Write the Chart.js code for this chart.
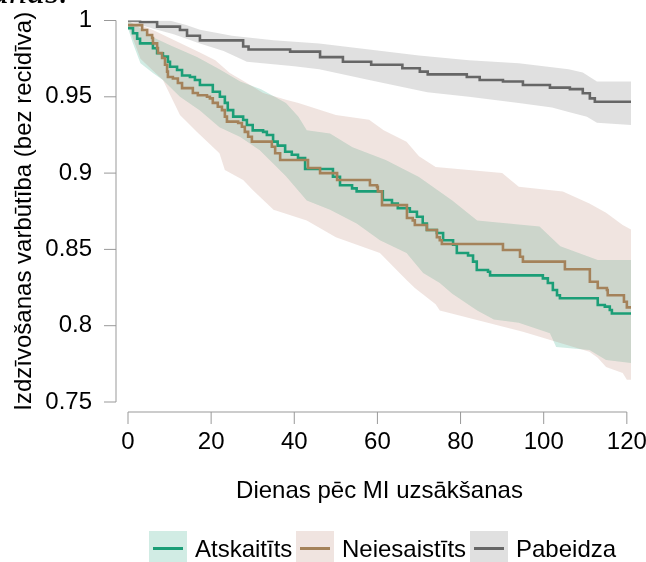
<!DOCTYPE html>
<html>
<head>
<meta charset="utf-8">
<script src="https://cdn.jsdelivr.net/npm/chart.js@4.4.1/dist/chart.umd.min.js"></script>
<style>
  body { margin: 0; background: #fff; }
  #wrap { position: relative; width: 646px; height: 562px; overflow: hidden; font-family: "Liberation Sans", Arial, sans-serif; }
  #caption { position: absolute; right: 578px; top: -27px; font: italic 36px/36px "Liberation Serif", "Times New Roman", serif; white-space: nowrap; color: #000; }
  .key { position: absolute; top: 531px; width: 38px; height: 36px; }
  .key i { position: absolute; left: 4px; right: 4px; top: 16px; height: 3px; }
  .key-text { position: absolute; top: 535px; font-size: 24px; line-height: 28px; color: #000; white-space: nowrap; }
</style>
</head>
<body>
<div id="wrap">
  <div id="caption">uzsākšanas.</div>
  <canvas id="km" width="646" height="562"></canvas>
  <div id="legend"></div>
</div>
<script>
// --- Data: Kaplan-Meier estimates and 95% bands, days since start ---
const groupNames = ["Atskaitīts", "Neiesaistīts", "Pabeidza"];

const greenDays = [0, 1.2, 2.2, 2.9, 6, 7, 8.4, 9.6, 10.1, 11.8, 13, 14.9, 16.1, 17.3, 20.4, 22.1, 23.3, 24, 25.3, 27.7,
  28.6, 30, 32.5, 33.4, 34.9, 36, 37.8, 39.4, 40.9, 42.6, 49.3, 51, 53.9, 55, 61.3, 63.5, 64.9, 67.8, 69.5, 70.9,
  71.9, 74.3, 75.8, 78.2, 79.1, 81.8, 83, 83.9, 86.6, 87.1, 99.8, 101, 102.2, 103.2, 103.9, 113, 114.7, 115.9, 116.4, 121];
const greenSurv = [0.995, 0.9916, 0.988, 0.985, 0.9818, 0.9785, 0.9763, 0.973, 0.9697, 0.9676, 0.964, 0.963, 0.961, 0.9577, 0.9533, 0.950, 0.946, 0.9413, 0.937, 0.9348,
  0.9315, 0.928, 0.927, 0.925, 0.9206, 0.918, 0.914, 0.912, 0.9098, 0.9027, 0.8976, 0.892, 0.890, 0.888, 0.8824, 0.880, 0.877, 0.8747, 0.8714, 0.867,
  0.8627, 0.8607, 0.856, 0.853, 0.8476, 0.846, 0.842, 0.8365, 0.8354, 0.833, 0.831, 0.828, 0.8234, 0.820, 0.818, 0.8136, 0.8125, 0.8103, 0.808, 0.808];

const brownDays = [0, 3.4, 4.6, 5.8, 6, 7, 7.2, 8.2, 8.9, 9.4, 9.6, 10.8, 12, 13, 15.6, 16.8, 19, 19.7, 20.4, 21.6,
  22.6, 23.3, 23.8, 26.5, 27.4, 28.1, 28.9, 29.8, 34.6, 35.4, 36.6, 43.3, 46.2, 50.3, 58.2, 59.9, 60.1, 61.1, 67.1, 68.5,
  69, 71.9, 74.3, 75, 75.5, 90.2, 94.3, 95, 105.1, 111.1, 113, 115.2, 115.4, 119.3, 120, 121];
const brownSurv = [0.997, 0.9938, 0.9905, 0.9885, 0.985, 0.982, 0.9787, 0.9754, 0.971, 0.9665, 0.963, 0.962, 0.959, 0.9557, 0.9525, 0.951, 0.950, 0.949, 0.946, 0.9435,
  0.9413, 0.937, 0.9337, 0.9328, 0.9304, 0.927, 0.9238, 0.9206, 0.9173, 0.913, 0.9086, 0.9033, 0.900, 0.8955, 0.892, 0.891, 0.888, 0.879, 0.8706, 0.869,
  0.866, 0.8627, 0.858, 0.856, 0.8535, 0.8496, 0.8452, 0.842, 0.837, 0.8288, 0.8247, 0.8234, 0.820, 0.8157, 0.812, 0.812];

const grayDays = [0, 2.9, 7, 12.5, 14.2, 17.3, 27.7, 29, 39, 46.2, 51.7, 58.5, 66, 70.2, 72.1, 81.5, 84.6, 90.2, 95, 101.5, 106.3, 109.4, 111.1, 112.3, 121];
const graySurv = [1, 0.999, 0.996, 0.9938, 0.990, 0.987, 0.983, 0.981, 0.9796, 0.976, 0.973, 0.971, 0.9687, 0.9665, 0.9647, 0.963, 0.961, 0.960, 0.9577, 0.956, 0.955, 0.9523, 0.949, 0.9468, 0.946];

const greenUpperDays = [0, 3, 6, 10, 16.6, 22, 27, 32, 38, 41, 43, 48.6, 54, 62, 70, 78, 84, 99, 104, 113, 121];
const greenUpper = [1, 0.995, 0.989, 0.984, 0.976, 0.968, 0.960, 0.955, 0.946, 0.937, 0.928, 0.926, 0.917, 0.9086, 0.8974, 0.882, 0.869, 0.865, 0.852, 0.843, 0.843];
const greenLowerDays = [0, 1.2, 3, 6, 8.4, 12.5, 17.3, 22, 27, 31.7, 38, 43, 48.6, 55, 60.6, 67, 71, 75, 78, 84, 88, 94, 101.5, 103, 111, 115, 121];
const greenLower = [0.995, 0.985, 0.972, 0.9656, 0.961, 0.950, 0.941, 0.930, 0.9237, 0.915, 0.898, 0.882, 0.876, 0.867, 0.856, 0.8476, 0.8345, 0.828, 0.821, 0.810, 0.804, 0.802, 0.795, 0.786, 0.784, 0.7775, 0.7755];

const brownUpperDays = [0, 6, 17.3, 21, 24.5, 28.6, 32.5, 38, 41, 50, 58, 61.5, 67, 70, 74, 90, 94, 104.6, 111, 115, 119, 121];
const brownUpper = [1, 0.9938, 0.979, 0.974, 0.9656, 0.959, 0.9525, 0.948, 0.946, 0.938, 0.935, 0.928, 0.9206, 0.911, 0.904, 0.900, 0.891, 0.888, 0.880, 0.874, 0.866, 0.863];
const brownLowerDays = [0, 3, 8.4, 12.5, 16.6, 22, 23.3, 27.7, 30, 35, 43, 50, 60.6, 67, 69, 74, 75, 95, 111, 113, 115, 119, 120, 121];
const brownLower = [0.997, 0.975, 0.961, 0.938, 0.927, 0.913, 0.902, 0.8955, 0.889, 0.876, 0.869, 0.858, 0.8476, 0.830, 0.8247, 0.814, 0.810, 0.796, 0.783, 0.779, 0.773, 0.769, 0.7645, 0.7645];

const grayUpperDays = [0, 10, 14, 17.3, 25, 35, 46, 58, 70, 82, 94, 106, 109.4, 112.8, 121];
const grayUpper = [1, 1, 0.997, 0.994, 0.990, 0.987, 0.985, 0.981, 0.977, 0.974, 0.972, 0.968, 0.966, 0.960, 0.960];
const grayLowerDays = [0, 3, 7, 11, 17.3, 23, 28.6, 40, 46, 58, 72, 82, 94, 102, 106, 110.4, 112.8, 121];
const grayLower = [1, 0.997, 0.994, 0.991, 0.985, 0.980, 0.973, 0.970, 0.968, 0.961, 0.953, 0.950, 0.946, 0.943, 0.940, 0.937, 0.933, 0.9315];

const xTicks = [0, 20, 40, 60, 80, 100, 120];
const xTickLabels = ["0", "20", "40", "60", "80", "100", "120"];
const yTicks = [0.75, 0.8, 0.85, 0.9, 0.95, 1];
const yTickLabels = ["0.75", "0.8", "0.85", "0.9", "0.95", "1"];

// --- Colours ---
const lineColors = ["#1b9e77", "#a4825a", "#666666"];
const bandColors = ["rgba(27,158,119,0.2)", "rgba(180,120,100,0.2)", "rgba(100,100,100,0.2)"];

const pts = (xs, ys) => xs.map((x, i) => ({ x, y: ys[i] }));

const curve = (data, color) => ({
  data, borderColor: color, borderWidth: 2.6, pointRadius: 0, stepped: true, fill: false,
});
const bandEdge = (data, color, fillNext) => ({
  data, borderWidth: 0, borderColor: "rgba(0,0,0,0)", pointRadius: 0, stepped: false, tension: 0,
  backgroundColor: color, fill: fillNext ? "+1" : false,
});

// index 0 is drawn last, so curves go first and bands after them
const datasets = [
  curve(pts(brownDays, brownSurv), lineColors[1]),
  curve(pts(greenDays, greenSurv), lineColors[0]),
  curve(pts(grayDays, graySurv), lineColors[2]),
  bandEdge(pts(brownUpperDays, brownUpper), bandColors[1], true),
  bandEdge(pts(brownLowerDays, brownLower), bandColors[1], false),
  bandEdge(pts(greenUpperDays, greenUpper), bandColors[0], true),
  bandEdge(pts(greenLowerDays, greenLower), bandColors[0], false),
  bandEdge(pts(grayUpperDays, grayUpper), bandColors[2], true),
  bandEdge(pts(grayLowerDays, grayLower), bandColors[2], false),
];

// base-graphics style axes, detached from the plot region
const detachedAxes = {
  id: "detachedAxes",
  afterDraw(chart) {
    const { ctx, chartArea, scales: { x, y } } = chart;
    const axisX = chartArea.left - 12;
    const axisY = chartArea.bottom + 10;
    ctx.save();
    ctx.strokeStyle = "#999";
    ctx.lineWidth = 1;
    ctx.beginPath();
    ctx.moveTo(axisX, y.getPixelForValue(yTicks[0]));
    ctx.lineTo(axisX, y.getPixelForValue(yTicks[yTicks.length - 1]));
    yTicks.forEach((v) => {
      const py = y.getPixelForValue(v);
      ctx.moveTo(axisX - 12, py);
      ctx.lineTo(axisX, py);
    });
    ctx.moveTo(x.getPixelForValue(xTicks[0]), axisY);
    ctx.lineTo(x.getPixelForValue(xTicks[xTicks.length - 1]), axisY);
    xTicks.forEach((v) => {
      const px = x.getPixelForValue(v);
      ctx.moveTo(px, axisY);
      ctx.lineTo(px, axisY + 12);
    });
    ctx.stroke();
    ctx.restore();
  },
};

const fontFamily = '"Liberation Sans", Arial, sans-serif';
const labelFont = { family: fontFamily, size: 24 };
Chart.defaults.font.family = fontFamily;
Chart.defaults.font.size = 24;
Chart.defaults.color = "#000";

new Chart(document.getElementById("km"), {
  type: "line",
  data: { datasets },
  options: {
    responsive: false,
    animation: false,
    events: [],
    layout: { padding: { top: 20.5, right: 15, bottom: 0, left: 0 } },
    plugins: { legend: { display: false }, tooltip: { enabled: false } },
    scales: {
      x: {
        type: "linear",
        min: 0,
        max: 121,
        border: { display: false },
        grid: { display: false, drawTicks: false },
        afterBuildTicks: (scale) => { scale.ticks = xTicks.map((value) => ({ value })); },
        afterFit: (scale) => { scale.height = 160; scale.paddingLeft = 0; scale.paddingRight = 0; },
        ticks: { padding: 26, maxRotation: 0, autoSkip: false, font: labelFont, callback: (v, i) => xTickLabels[i] },
        title: { display: true, text: "Dienas pēc MI uzsākšanas", font: labelFont, padding: { top: 0, bottom: 56 } },
      },
      y: {
        min: 0.75,
        max: 1,
        border: { display: false },
        grid: { display: false, drawTicks: false },
        afterBuildTicks: (scale) => { scale.ticks = yTicks.map((value) => ({ value })); },
        afterFit: (scale) => { scale.width = 128; scale.paddingTop = 0; scale.paddingBottom = 0; },
        ticks: { padding: 36, autoSkip: false, font: labelFont, callback: (v, i) => yTickLabels[i] },
        title: { display: true, text: "Izdzīvošanas varbūtība (bez recidīva)", font: labelFont, padding: { top: 10, bottom: 0 } },
      },
    },
  },
  plugins: [detachedAxes],
});

// --- Legend ---
const legend = document.getElementById("legend");
const keyLefts = [149, 296, 470];
const textLefts = [195, 342, 516];
groupNames.forEach((name, i) => {
  const key = document.createElement("div");
  key.className = "key";
  key.style.left = keyLefts[i] + "px";
  key.style.background = bandColors[i];
  const stroke = document.createElement("i");
  stroke.style.background = lineColors[i];
  key.appendChild(stroke);
  legend.appendChild(key);

  const label = document.createElement("div");
  label.className = "key-text";
  label.style.left = textLefts[i] + "px";
  label.textContent = name;
  legend.appendChild(label);
});
</script>
</body>
</html>
